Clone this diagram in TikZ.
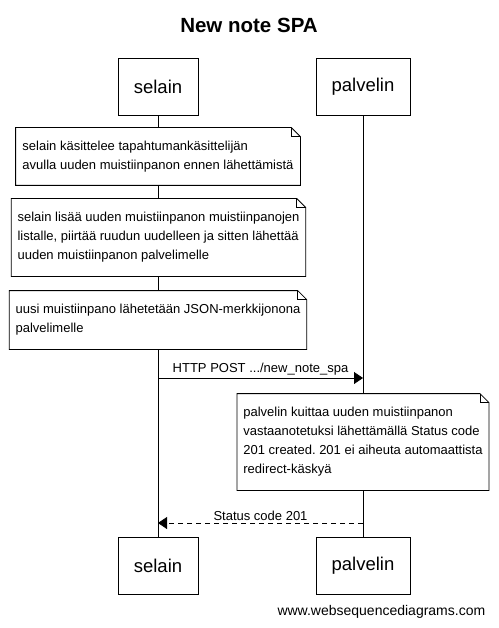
\documentclass[tikz,border=0pt]{standalone}
\usepackage{fontspec}
\setmainfont{Liberation Sans}
\usetikzlibrary{arrows.meta,positioning,backgrounds}
\frenchspacing

\begin{document}
\begin{tikzpicture}[
x=1pt, y=-1pt, line width=0.8pt,
  actor/.style = {rectangle, draw, minimum height=57pt, inner sep=0pt,
                  font=\fontsize{18.5}{22}\selectfont},% participant boxes
   note/.style = {rectangle, fill=white, align=left, inner xsep=6pt,
                  font=\fontsize{13}{19}\selectfont},% folded notes
    msg/.style = {-{Triangle[length=9pt,width=12pt]}},
 msgtxt/.style = {above, inner sep=2pt, font=\fontsize{13}{15}\selectfont},
                    ]
\useasboundingbox (0,0) rectangle (498,628);
\node[font=\fontsize{20.5}{24}\selectfont\bfseries] (title) at (249,25) {New note SPA};
% participants
\node[actor, minimum width=80pt] (s1) at (158,86.5) {selain};
\node[actor, minimum width=94pt] (p1) at (363,86.5) {palvelin};
\node[actor, minimum width=80pt] (s2) at (158,565.5) {selain};
\node[actor, minimum width=94pt] (p2) at (363,565.5) {palvelin};
% notes
\node[note, minimum width=284pt, minimum height=57pt] (n1) at (158,156.5)
    {selain käsittelee tapahtumankäsittelijän\\avulla uuden muistiinpanon ennen lähettämistä};
\node[note, minimum width=293pt, minimum height=77pt] (n2) at (158.5,237.5)
    {selain lisää uuden muistiinpanon muistiinpanojen\\listalle, piirtää ruudun uudelleen ja sitten lähettää\\uuden muistiinpanon palvelimelle};
\node[note, minimum width=296pt, minimum height=58pt] (n3) at (158,320)
    {uusi muistiinpano lähetetään JSON-merkkijonona\\palvelimelle};
\node[note, minimum width=250pt, minimum height=96pt] (n4) at (363,442)
    {palvelin kuittaa uuden muistiinpanon\\vastaanotetuksi lähettämällä Status code\\201 created. 201 ei aiheuta automaattista\\redirect-käskyä};
\foreach \n in {n1,n2,n3,n4}{
    \draw (\n.south west) |- ([xshift=-9pt]\n.north east) -- ([yshift=-9pt]\n.north east)
          -- (\n.south east) -- cycle;
    \draw ([xshift=-9pt]\n.north east) |- ([yshift=-9pt]\n.north east);
}
% lifelines
\begin{scope}[on background layer]
\draw (s1) -- (s2);
\draw (p1) -- (p2);
\end{scope}
% messages
\draw[msg] (s1 |- 0,378) -- node[msgtxt] {HTTP POST .../new\_note\_spa} (p1 |- 0,378);
\draw[msg, dash pattern=on 5pt off 4pt] (p1 |- 0,523) -- node[msgtxt] {Status code 201} (s1 |- 0,523);
\node[anchor=east, font=\fontsize{14}{16}\selectfont] (web) at (489,612) {www.websequencediagrams.com};
\end{tikzpicture}
\end{document}
